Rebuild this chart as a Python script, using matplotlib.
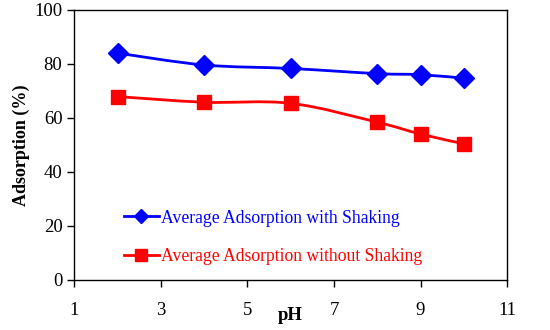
import numpy as np
import matplotlib.pyplot as plt
from matplotlib.path import Path
from matplotlib.patches import PathPatch
from matplotlib.lines import Line2D

ph = [2, 4, 6, 8, 9, 10]
with_shaking = [84.0, 79.6, 78.3, 76.4, 76.0, 74.7]
without_shaking = [67.9, 65.8, 65.4, 58.4, 54.0, 50.4]

plt.rcParams['font.family'] = ['Liberation Serif', 'DejaVu Serif']


def smooth_path(x, y):
    # Excel-like smoothed line: cubic Bezier through the points
    x = np.asarray(x, float)
    y = np.asarray(y, float)
    verts = [(x[0], y[0])]
    codes = [Path.MOVETO]
    n = len(x)
    for i in range(n - 1):
        x0, y0 = (x[i - 1], y[i - 1]) if i > 0 else (x[i], y[i])
        x3, y3 = (x[i + 2], y[i + 2]) if i + 2 < n else (x[i + 1], y[i + 1])
        c1 = (x[i] + (x[i + 1] - x0) / 6, y[i] + (y[i + 1] - y0) / 6)
        c2 = (x[i + 1] - (x3 - x[i]) / 6, y[i + 1] - (y3 - y[i]) / 6)
        verts += [c1, c2, (x[i + 1], y[i + 1])]
        codes += [Path.CURVE4] * 3
    return Path(verts, codes)


fig = plt.figure(figsize=(5.5, 3.3), dpi=100)
ax = fig.add_axes([0.135, 0.152, 0.787, 0.818])

for ys, color, marker, ms in [(with_shaking, 'blue', 'D', 10),
                              (without_shaking, 'red', 's', 10.5)]:
    ax.add_patch(PathPatch(smooth_path(ph, ys), facecolor='none',
                           edgecolor=color, lw=2, zorder=2))
    ax.plot(ph, ys, linestyle='none', marker=marker, color=color,
            markersize=ms, zorder=3)

ax.set_xlim(1, 11)
ax.set_ylim(0, 100)
ax.set_xticks([1, 3, 5, 7, 9, 11])
ax.set_yticks(range(0, 101, 20))
ax.tick_params(direction='out', length=5, width=1, labelsize=13.5)
ax.tick_params(axis='x', pad=11)
for s in ax.spines.values():
    s.set_linewidth(1)

ax.set_xlabel('pH', fontsize=13.5, fontweight='bold', labelpad=-9)
ax.set_ylabel('Adsorption (%)', fontsize=13, fontweight='bold', labelpad=3)

handles = [Line2D([], [], color='blue', lw=2, marker='D', markersize=7),
           Line2D([], [], color='red', lw=2, marker='s', markersize=8)]
leg = ax.legend(handles, ['Average Adsorption with Shaking',
                          'Average Adsorption without Shaking'],
                loc='lower left', bbox_to_anchor=(0.098, 0.03),
                frameon=False, fontsize=12.7, handlelength=2.0,
                handletextpad=0.1, labelspacing=1.2, borderaxespad=0)
for t, c in zip(leg.get_texts(), ['blue', 'red']):
    t.set_color(c)

fig.savefig('out.png', dpi=100)
